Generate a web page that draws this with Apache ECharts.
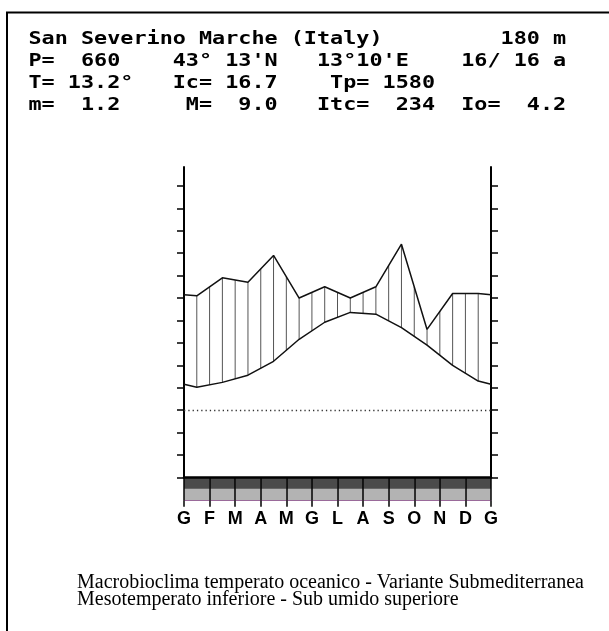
<!DOCTYPE html>
<html>
<head>
<meta charset="utf-8">
<script src="https://cdn.jsdelivr.net/npm/echarts@6/dist/echarts.min.js"></script>
<style>
  html, body { margin: 0; padding: 0; background: #fff; }
  #chart { width: 609px; height: 631px; }
</style>
</head>
<body>
<div id="chart"></div>
<script>
// dati della stazione
var monthLabels = ['G', 'F', 'M', 'A', 'M', 'G', 'L', 'A', 'S', 'O', 'N', 'D', 'G'];
var precipitation = [51, 59, 57, 69, 50, 55, 50, 55, 74, 36, 52, 52];            // mm
var temperature = [5.1, 6.2, 7.8, 10.9, 15.8, 19.6, 21.8, 21.4, 18.4, 14.5, 10.0, 6.5]; // °C
var bandTop = [2, 2, 2, 2, 2, 2, 2, 2, 2, 2, 2, 2];
var bandBottom = [1, 1, 1, 1, 1, 1, 1, 1, 1, 1, 1, 1];
var tempTicks = [-15, -10, -5, 0, 5, 10, 15, 20, 25, 30, 35, 40, 45, 50];
var precTicks = [-30, -20, -10, 0, 10, 20, 30, 40, 50, 60, 70, 80, 90, 100];

var headerLines = [
    "San Severino Marche (Italy)         180 m",
    "P=  660    43° 13'N   13°10'E    16/ 16 a",
    "T= 13.2°   Ic= 16.7    Tp= 1580",
    "m=  1.2     M=  9.0   Itc=  234  Io=  4.2"
];
var footerLines = [
    'Macrobioclima temperato oceanico - Variante Submediterranea',
    'Mesotemperato inferiore - Sub umido superiore'
];

var bandColours = { 1: '#b3b3b3', 2: '#4b4b4b' };

// punti a metà mese, con i bordi chiusi fra dicembre e gennaio
function monthPoints(values) {
    var edge = (values[0] + values[values.length - 1]) / 2;
    var pts = [[0, edge]];
    values.forEach(function (v, i) {
        pts.push([i + 0.5, v]);
    });
    pts.push([values.length, edge]);
    return pts;
}

function makeOption() {
    var axisBlack = { color: '#000', width: 2 };
    var graphics = [{
        type: 'rect',
        shape: { x: 7, y: 12.5, width: 700, height: 700 },
        style: { fill: 'none', stroke: '#000', lineWidth: 2 }
    }];
    headerLines.forEach(function (line, i) {
        graphics.push({
            type: 'text',
            x: 28.5,
            y: 39.5 + i * 22,
            scaleX: 1.21,
            style: {
                text: line,
                font: 'bold 18px "DejaVu Sans Mono"',
                fill: '#000',
                verticalAlign: 'middle'
            }
        });
    });
    footerLines.forEach(function (line, i) {
        graphics.push({
            type: 'text',
            x: 77,
            y: 582.5 + i * 17.5,
            style: {
                text: line,
                font: '20px "Liberation Serif"',
                fill: '#000',
                verticalAlign: 'middle'
            }
        });
    });

    var option = {
        animation: false,
        graphic: graphics,
        grid: [
            { left: 184, right: 118, top: 167, height: 310.5 },
            { left: 184, right: 118, top: 477.5, height: 22.8 }
        ],
        xAxis: [{
            type: 'value', gridIndex: 0, min: 0, max: 12,
            axisLine: { onZero: false, lineStyle: { color: '#000', width: 2.5 } },
            axisTick: { show: false },
            axisLabel: { show: false },
            splitLine: { show: false },
            z: 10
        }, {
            type: 'value', gridIndex: 1, min: 0, max: 12, interval: 1,
            axisLine: { onZero: false, lineStyle: { color: '#9a6a9a', width: 1 } },
            axisTick: { length: 6.5, lineStyle: { color: '#000', width: 1.5 } },
            axisLabel: {
                margin: 10,
                color: '#000',
                fontFamily: 'Liberation Sans',
                fontWeight: 'bold',
                fontSize: 18,
                formatter: function (v) { return monthLabels[v]; }
            },
            splitLine: { show: true, lineStyle: { color: '#000', width: 1.5 } },
            z: 10
        }],
        yAxis: [{
            type: 'value', gridIndex: 0, min: -15, max: 54.2, position: 'left',
            axisLine: { show: true, lineStyle: axisBlack },
            axisTick: { show: true, length: 7, customValues: tempTicks, lineStyle: { color: '#000', width: 1.5 } },
            axisLabel: { show: false },
            splitLine: { show: false }
        }, {
            type: 'value', gridIndex: 0, min: -30, max: 108.4, position: 'right',
            axisLine: { show: true, lineStyle: axisBlack },
            axisTick: { show: true, length: 7, customValues: precTicks, lineStyle: { color: '#000', width: 1.5 } },
            axisLabel: { show: false },
            splitLine: { show: false }
        }, {
            type: 'value', gridIndex: 1, min: 0, max: 2, show: false
        }],
        series: [{
            // tratteggio fra le due curve, ogni mezzo mese
            type: 'custom',
            xAxisIndex: 0,
            yAxisIndex: 1,
            silent: true,
            data: precipitation.map(function (p, i) {
                return [i + 0.5, p, temperature[i] * 2];
            }),
            renderItem: function (params, api) {
                var i = params.dataIndex;
                var top = api.coord([api.value(0), api.value(1)]);
                var bot = api.coord([api.value(0), api.value(2)]);
                var st = { stroke: '#555', lineWidth: 1 };
                var children = [{
                    type: 'line',
                    shape: { x1: top[0], y1: top[1], x2: bot[0], y2: bot[1] },
                    style: st
                }];
                if (i < precipitation.length - 1) {
                    var nTop = api.coord([i + 1.5, precipitation[i + 1]]);
                    var nBot = api.coord([i + 1.5, temperature[i + 1] * 2]);
                    var mx = (top[0] + nTop[0]) / 2;
                    children.push({
                        type: 'line',
                        shape: { x1: mx, y1: (top[1] + nTop[1]) / 2, x2: mx, y2: (bot[1] + nBot[1]) / 2 },
                        style: st
                    });
                }
                return { type: 'group', children: children };
            }
        }, {
            name: 'P',
            type: 'line',
            xAxisIndex: 0,
            yAxisIndex: 1,
            data: monthPoints(precipitation),
            symbol: 'none',
            lineStyle: { color: '#111', width: 1.5 },
            z: 4
        }, {
            name: 'T',
            type: 'line',
            xAxisIndex: 0,
            yAxisIndex: 0,
            data: monthPoints(temperature),
            symbol: 'none',
            lineStyle: { color: '#111', width: 1.5 },
            z: 4,
            markLine: {
                silent: true,
                symbol: ['none', 'none'],
                label: { show: false },
                lineStyle: { color: '#333', type: [1.3, 3], width: 1.3 },
                data: [{ yAxis: 0 }]
            }
        }, {
            // bande sotto il diagramma
            type: 'custom',
            xAxisIndex: 1,
            yAxisIndex: 2,
            silent: true,
            data: bandTop.map(function (c, i) {
                return [i, c, bandBottom[i]];
            }),
            renderItem: function (params, api) {
                var i = api.value(0);
                var a = api.coord([i, 2]);
                var b = api.coord([i + 1, 1]);
                var c = api.coord([i + 1, 0]);
                return {
                    type: 'group',
                    children: [{
                        type: 'rect',
                        shape: { x: a[0], y: a[1], width: b[0] - a[0], height: b[1] - a[1] },
                        style: { fill: bandColours[api.value(1)] }
                    }, {
                        type: 'rect',
                        shape: { x: a[0], y: b[1], width: b[0] - a[0], height: c[1] - b[1] },
                        style: { fill: bandColours[api.value(2)] }
                    }]
                };
            }
        }]
    };
    return option;
}

var myChart = echarts.init(document.getElementById('chart'));
myChart.setOption(makeOption());
</script>
</body>
</html>
